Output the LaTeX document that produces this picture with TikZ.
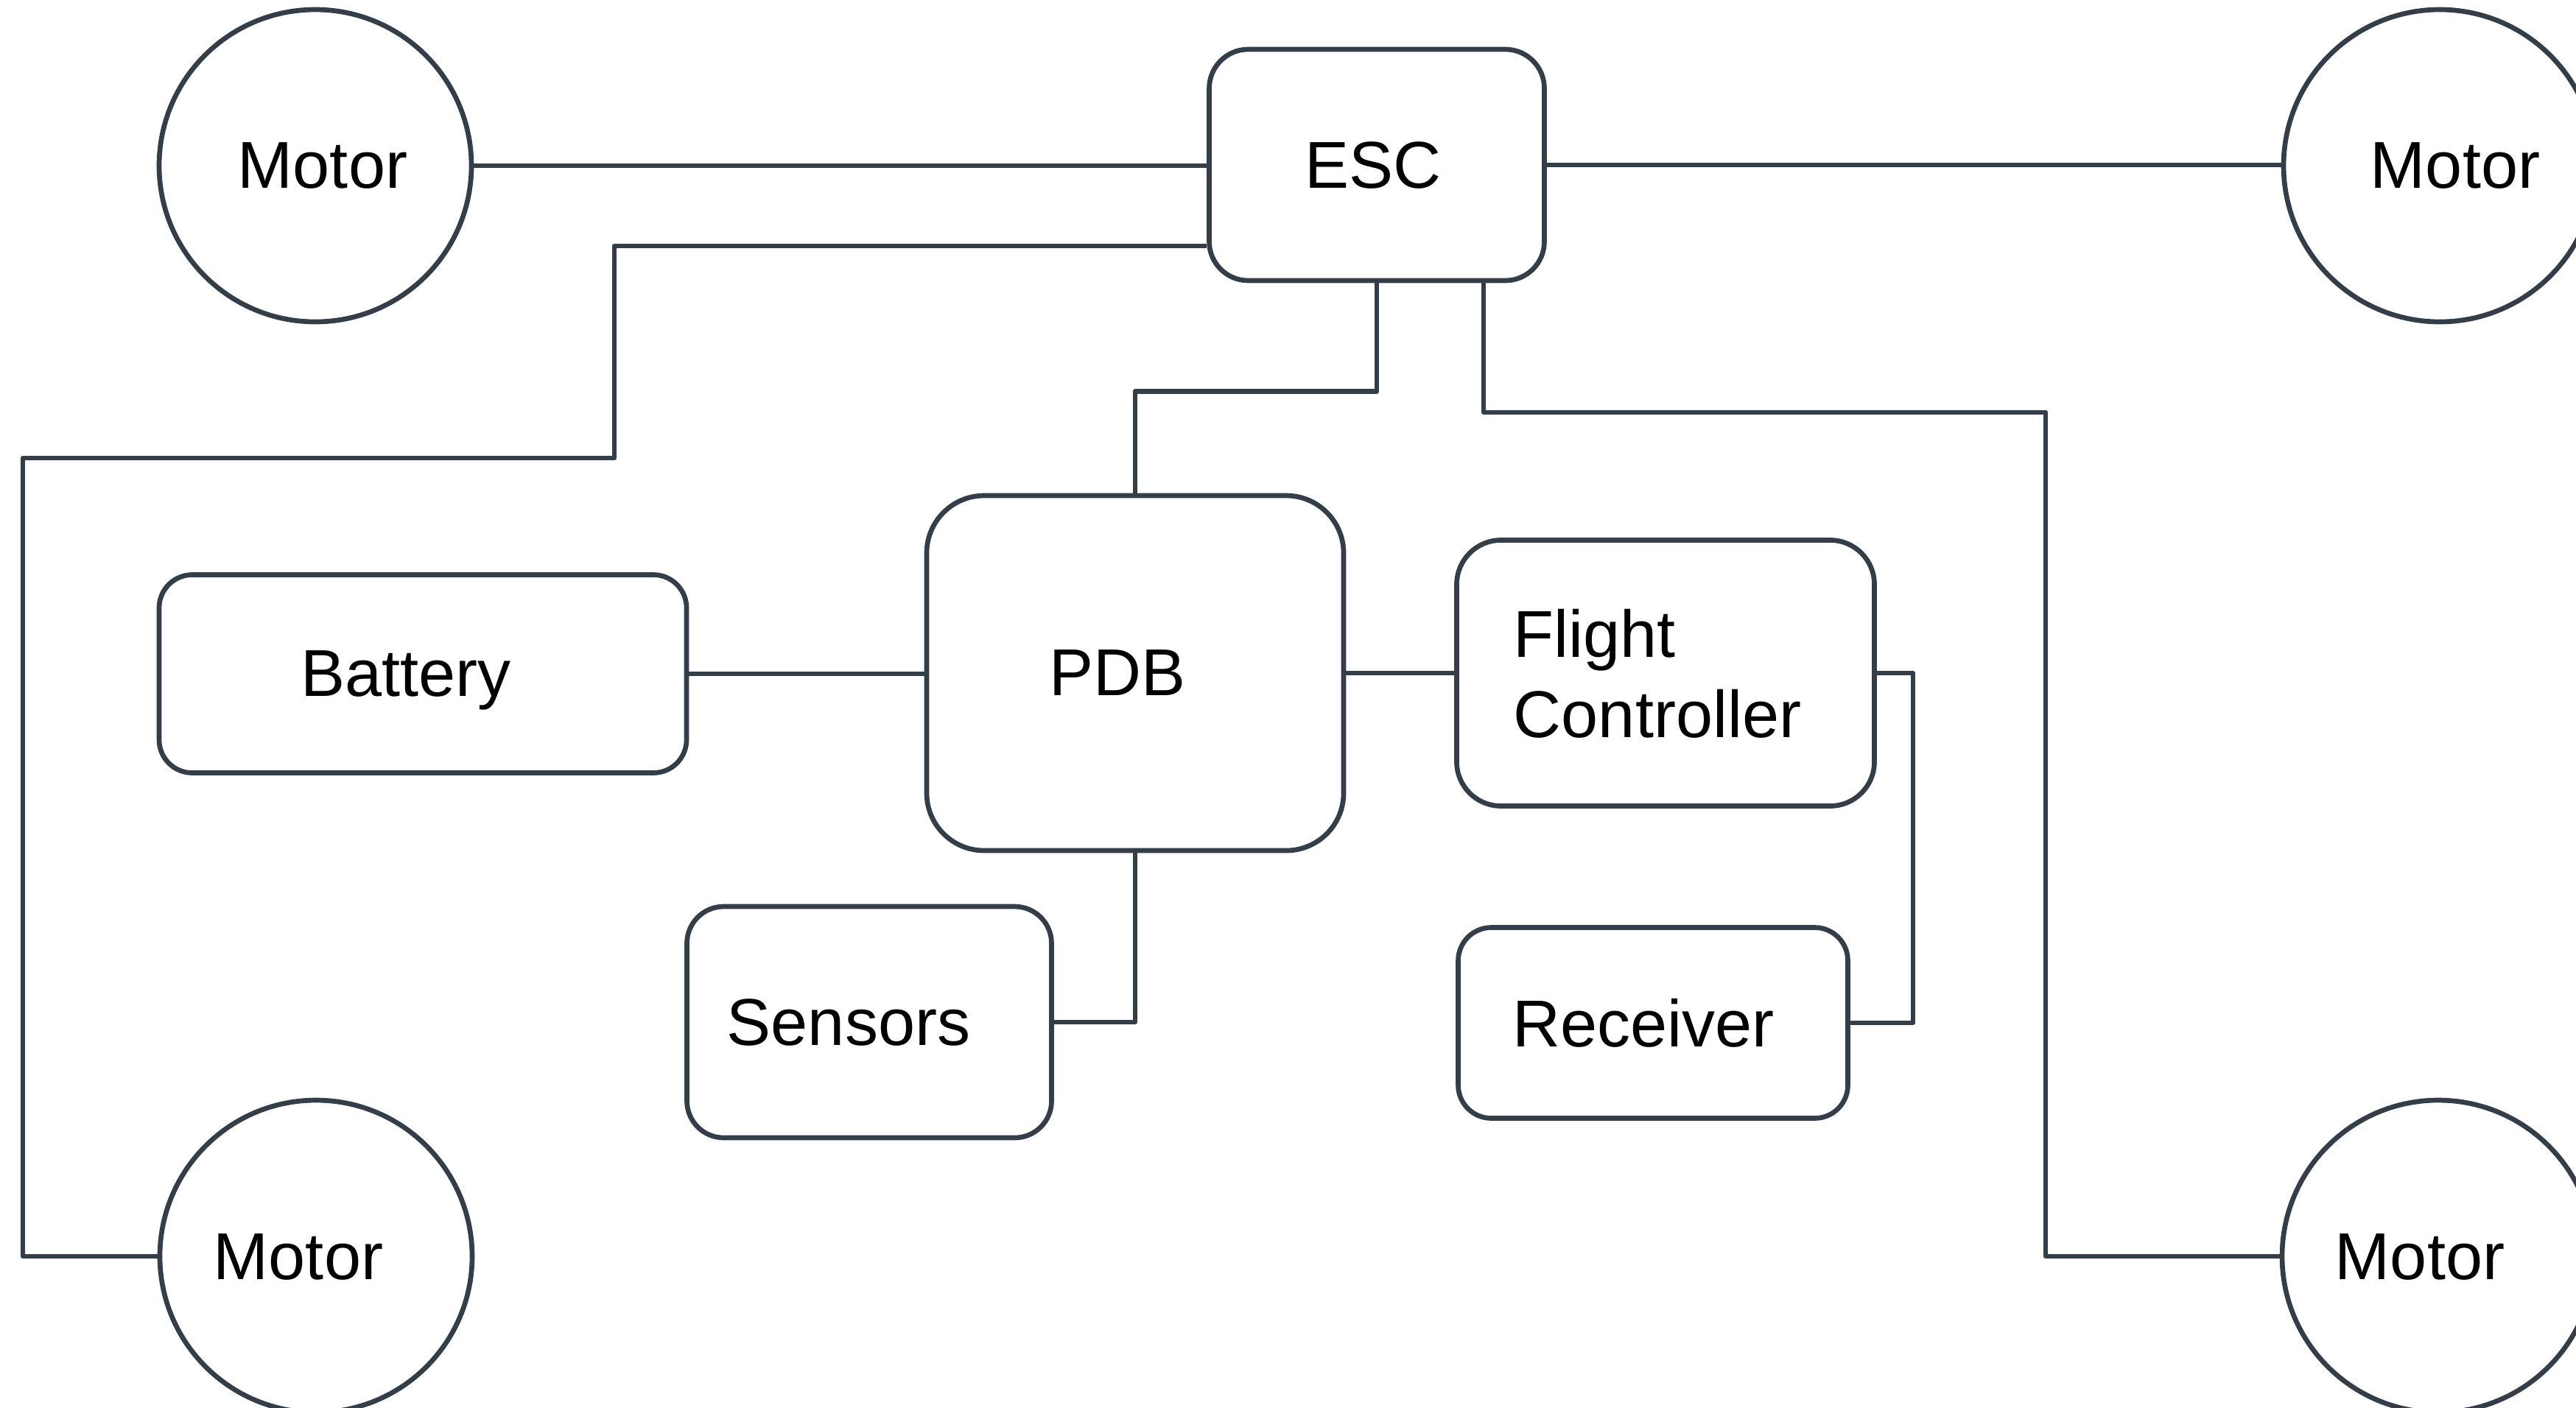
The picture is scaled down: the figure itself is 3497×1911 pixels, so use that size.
\documentclass[tikz,border=0pt]{standalone}
\usepackage{fontspec}
\setmainfont{Liberation Sans}

\definecolor{linegrey}{HTML}{343E48}
\newlength{\px}
\setlength{\px}{0.01cm}

\tikzstyle{motor} = [circle, draw=linegrey, line width=1.9pt, minimum size=424\px, inner sep=0pt]
\tikzstyle{part} = [rectangle, draw=linegrey, line width=1.9pt, inner sep=0pt]
\tikzstyle{link} = [draw=linegrey, line width=1.9pt, line join=round]

\begin{document}
\begin{tikzpicture}[x=0.01cm, y=-0.01cm, font=\fontsize{25.6pt}{31pt}\selectfont,
                    every label/.style={text depth=0pt}]
\useasboundingbox (0,0) rectangle (3497,1911);
\clip (0,0) rectangle (3497,1911);

% motors in the four corners
\node[motor, label={[xshift=10\px]center:Motor}] (motorTL) at (428,225) {};
\node[motor, label={[xshift=21\px]center:Motor}] (motorTR) at (3312,225) {};
\node[motor, label={[xshift=-24\px]center:Motor}] (motorBL) at (429,1706) {};
\node[motor, label={[xshift=-25\px]center:Motor}] (motorBR) at (3310,1706) {};

% boards
\node[part, rounded corners=53\px, minimum width=455\px, minimum height=314\px,
      label={[xshift=-5\px]center:ESC}] (esc) at (1869,224) {};
\node[part, rounded corners=78\px, minimum width=566\px, minimum height=482\px,
      label={[xshift=-24\px]center:PDB}] (pdb) at (1541,914) {};
\node[part, rounded corners=45\px, minimum width=716\px, minimum height=269\px,
      label={[xshift=-23\px]center:Battery}] (battery) at (574,915) {};
\node[part, rounded corners=60\px, minimum width=567\px, minimum height=361\px,
      label={[xshift=-11\px, align=left]center:Flight\\Controller}] (fc) at (2261,914) {};
\node[part, rounded corners=45\px, minimum width=529\px, minimum height=259\px,
      label={[xshift=-13\px]center:Receiver}] (receiver) at (2244,1389) {};
\node[part, rounded corners=50\px, minimum width=495\px, minimum height=314\px,
      label={[xshift=-28\px]center:Sensors}] (sensors) at (1180,1388) {};

% bends of the long motor leads
\coordinate (leftBend) at (834,622);
\coordinate (leftDrop) at (31,622);
\coordinate (rightBend) at (2777,560);

% wiring
\draw[link] (motorTL.east) -- (motorTL.east -| esc.west);
\draw[link] (esc.east) -- (esc.east -| motorTR.west);
\draw[link] ([yshift=-110\px]esc.west) -| (leftBend) -- (leftDrop) |- (motorBL.west);
\draw[link] ([xshift=145\px]esc.south) |- (rightBend) |- (motorBR.west);
\draw[link] (esc.south) -- ++(0,147) -| (pdb.north);
\draw[link] (battery.east) -- (battery.east -| pdb.west);
\draw[link] (pdb.east) -- (pdb.east -| fc.west);
\draw[link] (fc.east) -- ++(49,0) |- (receiver.east);
\draw[link] (sensors.east) -| (pdb.south);
\end{tikzpicture}
\end{document}
